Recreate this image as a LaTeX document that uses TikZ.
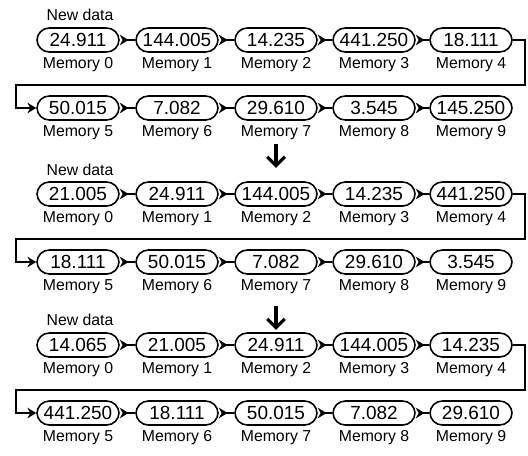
\documentclass[tikz,border=0pt]{standalone}
\usepackage{fontspec}
\setmainfont{Liberation Sans}
\usetikzlibrary{arrows.meta}
\tikzset{
  cell/.style={draw, line width=0.9pt, rounded corners=7pt, minimum width=1.64cm, minimum height=0.48cm, inner sep=0pt, font=\fontsize{10.8}{12}\selectfont},
  tag/.style={font=\fontsize{9}{10}\selectfont, inner sep=1pt},
  push/.style={line width=0.9pt, {Stealth[reversed, length=5pt, width=6pt]}-},
  wrap/.style={line width=0.9pt, -{Stealth[length=5pt, width=6pt]}},
  drop/.style={line width=1.8pt, -{Straight Barb[length=5pt, width=10pt]}}
}

\begin{document}
\begin{tikzpicture}[x=0.2mm, y=-0.2mm, every label/.style={tag}, label distance=1.5pt]
\useasboundingbox (0,0) rectangle (528,455);
% first step
\node[tag] (na) at (80,15) {New data};
\node[cell, label={below:Memory 0}] (a0) at (78,40) {24.911};
\node[cell, label={below:Memory 1}] (a1) at (177,40) {144.005};
\node[cell, label={below:Memory 2}] (a2) at (276,40) {14.235};
\node[cell, label={below:Memory 3}] (a3) at (374,40) {441.250};
\node[cell, label={below:Memory 4}] (a4) at (471,40) {18.111};
\node[cell, label={below:Memory 5}] (a5) at (78,108) {50.015};
\node[cell, label={below:Memory 6}] (a6) at (177,108) {7.082};
\node[cell, label={[name=la7]below:Memory 7}] (a7) at (276,108) {29.610};
\node[cell, label={below:Memory 8}] (a8) at (374,108) {3.545};
\node[cell, label={below:Memory 9}] (a9) at (471,108) {145.250};
\draw[push] (a0) -- (a1);
\draw[push] (a1) -- (a2);
\draw[push] (a2) -- (a3);
\draw[push] (a3) -- (a4);
\draw[wrap] (a4.east) -- ++(12,0) |- (16,85) |- (a5.west);
\draw[push] (a5) -- (a6);
\draw[push] (a6) -- (a7);
\draw[push] (a7) -- (a8);
\draw[push] (a8) -- (a9);
\draw[drop] (la7.south) ++(0,2) -- ++(0,24);
% second step
\node[tag] (nb) at (80,170) {New data};
\node[cell, label={below:Memory 0}] (b0) at (78,194) {21.005};
\node[cell, label={below:Memory 1}] (b1) at (177,194) {24.911};
\node[cell, label={below:Memory 2}] (b2) at (276,194) {144.005};
\node[cell, label={below:Memory 3}] (b3) at (374,194) {14.235};
\node[cell, label={below:Memory 4}] (b4) at (471,194) {441.250};
\node[cell, label={below:Memory 5}] (b5) at (78,262) {18.111};
\node[cell, label={below:Memory 6}] (b6) at (177,262) {50.015};
\node[cell, label={[name=lb7]below:Memory 7}] (b7) at (276,262) {7.082};
\node[cell, label={below:Memory 8}] (b8) at (374,262) {29.610};
\node[cell, label={below:Memory 9}] (b9) at (471,262) {3.545};
\draw[push] (b0) -- (b1);
\draw[push] (b1) -- (b2);
\draw[push] (b2) -- (b3);
\draw[push] (b3) -- (b4);
\draw[wrap] (b4.east) -- ++(12,0) |- (16,239) |- (b5.west);
\draw[push] (b5) -- (b6);
\draw[push] (b6) -- (b7);
\draw[push] (b7) -- (b8);
\draw[push] (b8) -- (b9);
\draw[drop] (lb7.south) ++(0,10) -- ++(0,24);
% third step
\node[tag] (nc) at (80,320) {New data};
\node[cell, label={below:Memory 0}] (c0) at (78,345) {14.065};
\node[cell, label={below:Memory 1}] (c1) at (177,345) {21.005};
\node[cell, label={below:Memory 2}] (c2) at (276,345) {24.911};
\node[cell, label={below:Memory 3}] (c3) at (374,345) {144.005};
\node[cell, label={below:Memory 4}] (c4) at (471,345) {14.235};
\node[cell, label={below:Memory 5}] (c5) at (78,413) {441.250};
\node[cell, label={below:Memory 6}] (c6) at (177,413) {18.111};
\node[cell, label={below:Memory 7}] (c7) at (276,413) {50.015};
\node[cell, label={below:Memory 8}] (c8) at (374,413) {7.082};
\node[cell, label={below:Memory 9}] (c9) at (471,413) {29.610};
\draw[push] (c0) -- (c1);
\draw[push] (c1) -- (c2);
\draw[push] (c2) -- (c3);
\draw[push] (c3) -- (c4);
\draw[wrap] (c4.east) -- ++(12,0) |- (16,390) |- (c5.west);
\draw[push] (c5) -- (c6);
\draw[push] (c6) -- (c7);
\draw[push] (c7) -- (c8);
\draw[push] (c8) -- (c9);
\end{tikzpicture}
\end{document}
